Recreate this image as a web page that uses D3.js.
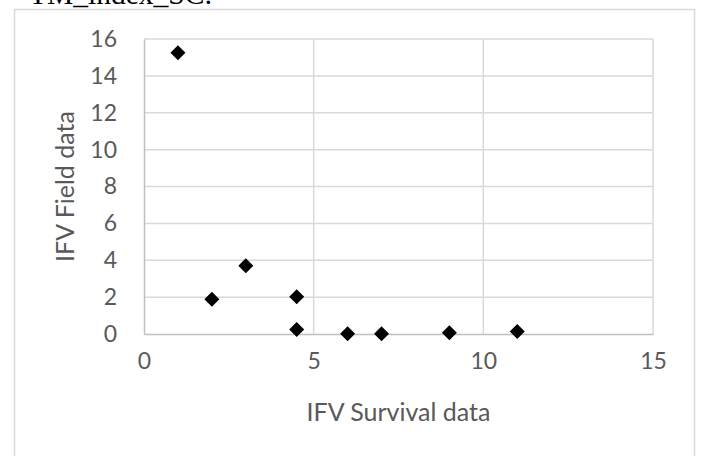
<!DOCTYPE html>
<html>
<head>
<meta charset="utf-8">
<script src="https://cdn.jsdelivr.net/npm/d3@7"></script>
<style>
  html, body { margin: 0; padding: 0; background: #fff; }
  svg { display: block; }
</style>
</head>
<body>
<svg id="chart" width="704" height="456"></svg>
<script>
const survival = [1, 2, 3, 4.5, 4.5, 6, 7, 9, 11];
const field = [15.25, 1.88, 3.7, 2.02, 0.25, 0.01, 0.01, 0.07, 0.13];
const xTicks = [0, 5, 10, 15];
const yTicks = [0, 2, 4, 6, 8, 10, 12, 14, 16];
const xTitle = "IFV Survival data";
const yTitle = "IFV Field data";
const caption = "TM_index_SC:";

const svg = d3.select("#chart");
const W = 704, H = 456;
const m = { left: 144, right: 653, top: 39, bottom: 334 };

svg.append("rect").attr("width", W).attr("height", H).attr("fill", "#fff");

// caption (cut off at top, as in the source document)
svg.append("text").attr("x", 29).attr("y", 4)
  .attr("font-family", "'Liberation Serif', 'DejaVu Serif', serif")
  .attr("font-size", 29.5).attr("fill", "#000").text(caption);

// outer chart frame
svg.append("rect").attr("x", 14.5).attr("y", 9.5).attr("width", 680).attr("height", 460)
  .attr("fill", "none").attr("stroke", "#d9d9d9").attr("stroke-width", 1.5);

const x = d3.scaleLinear().domain([0, 15]).range([m.left, m.right]);
const y = d3.scaleLinear().domain([0, 16]).range([m.bottom, m.top]);

const font = "Lato, 'Open Sans', sans-serif";

// gridlines
svg.append("g").selectAll("line").data(yTicks.filter(d => d !== 0)).join("line")
  .attr("x1", m.left).attr("x2", m.right)
  .attr("y1", d => y(d)).attr("y2", d => y(d))
  .attr("stroke", "#d9d9d9").attr("stroke-width", 1.5);
svg.append("g").selectAll("line").data(xTicks.filter(d => d !== 0)).join("line")
  .attr("y1", m.top).attr("y2", m.bottom)
  .attr("x1", d => x(d)).attr("x2", d => x(d))
  .attr("stroke", "#d9d9d9").attr("stroke-width", 1.5);

// axes
const xAxis = svg.append("g").attr("transform", `translate(0,${m.bottom})`)
  .call(d3.axisBottom(x).tickValues(xTicks).tickSize(0).tickPadding(19));
const yAxis = svg.append("g").attr("transform", `translate(${m.left},0)`)
  .call(d3.axisLeft(y).tickValues(yTicks).tickSize(0).tickPadding(27));
[xAxis, yAxis].forEach(a => {
  a.select(".domain").attr("stroke", "#bfbfbf").attr("stroke-width", 1.5);
  a.selectAll("text").attr("font-family", font).attr("font-size", 23).attr("fill", "#595959");
});

// markers (diamonds)
const r = 7.5;
svg.append("g").selectAll("path").data(survival.map((s, i) => [s, field[i]])).join("path")
  .attr("d", d => {
    const cx = x(d[0]), cy = y(d[1]);
    return `M${cx},${cy - r}L${cx + r},${cy}L${cx},${cy + r}L${cx - r},${cy}Z`;
  })
  .attr("fill", "#000");

// axis titles
svg.append("text").attr("x", (m.left + m.right) / 2).attr("y", 421)
  .attr("text-anchor", "middle").attr("font-family", font).attr("font-size", 25)
  .attr("fill", "#595959").text(xTitle);
svg.append("text").attr("transform", `translate(74,${(m.top + m.bottom) / 2}) rotate(-90)`)
  .attr("text-anchor", "middle").attr("font-family", font).attr("font-size", 25)
  .attr("fill", "#595959").text(yTitle);
</script>
</body>
</html>
